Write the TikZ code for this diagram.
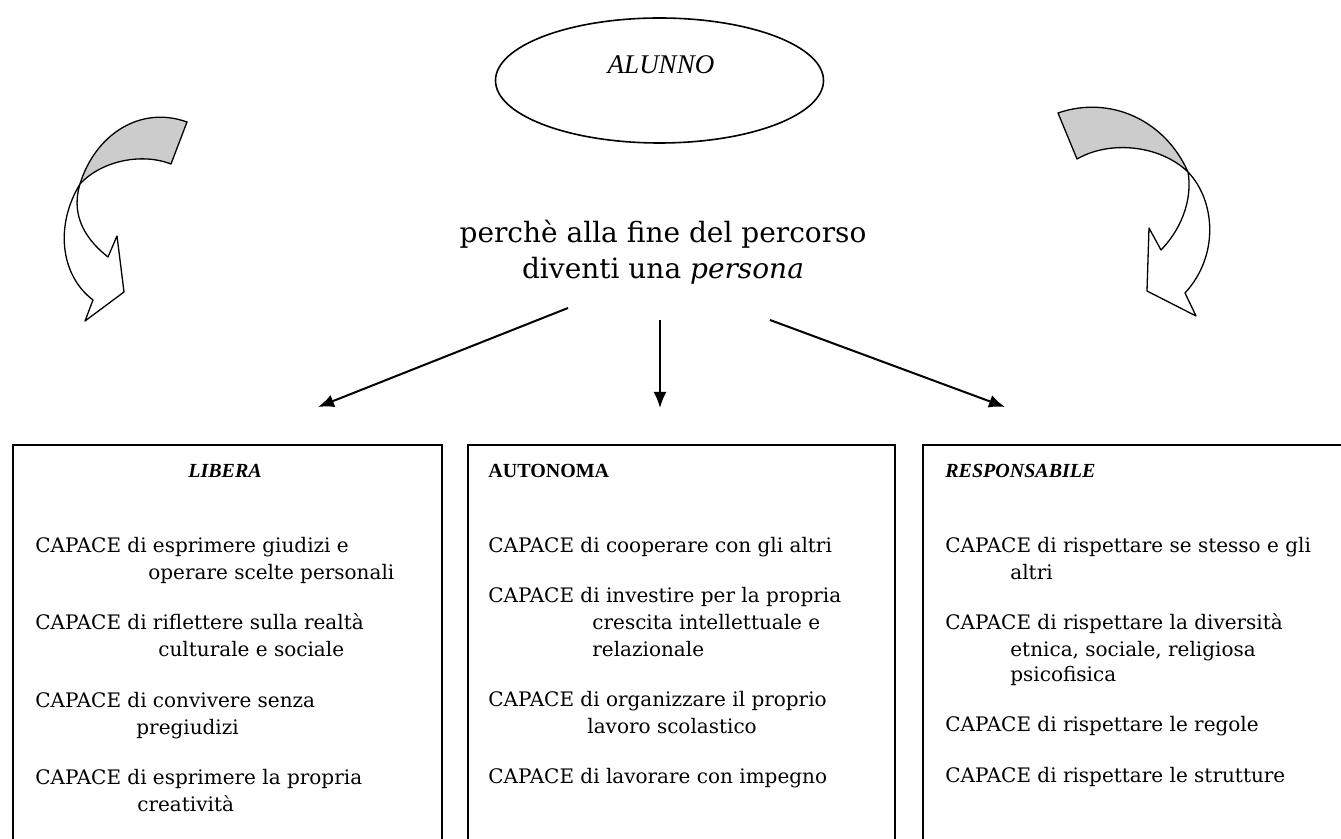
\documentclass[tikz,border=0pt]{standalone}
\usepackage{fontspec}
\setmainfont{DejaVu Serif}
\newfontfamily\tnr{Liberation Serif}
\usetikzlibrary{shapes.geometric,arrows.meta}
\tikzset{
  box/.style={draw, line width=1pt, inner sep=0pt, outer sep=0pt},
  txt/.style={anchor=base west, inner sep=0pt, font=\fontsize{10}{12}\selectfont},
  hdr/.style={anchor=base west, inner sep=0pt, font=\tnr\bfseries\fontsize{10}{12}\selectfont},
  big/.style={anchor=base, inner sep=0pt, font=\fontsize{14}{17}\selectfont},
  conn/.style={line width=1pt, -{Latex[length=8pt,width=6.5pt]}},
  bandgrey/.style={fill=black!20, draw, line width=0.65pt, line join=round},
  bandwhite/.style={fill=white, draw, line width=0.65pt, line join=round},
}
\begin{document}
\begin{tikzpicture}[x=0.5pt,y=-0.5pt]
\useasboundingbox (0,0) rectangle (1341,839);
\clip (0,0) rectangle (1341,839);

% ellipse
\node[draw, ellipse, line width=0.8pt, minimum width=164pt, minimum height=62.5pt, inner sep=0pt] (alunno) at (659.5,80.5) {};
\node[anchor=base, inner sep=0pt, font=\tnr\itshape\fontsize{13.5}{16}\selectfont] (alunnotxt) at (661,74) {ALUNNO};

% central text
\node[big] (perche1) at (663,243) {perchè alla fine del percorso};
\node[big] (perche2) at (663,279) {diventi una \textit{persona}};

% curved arrows (left)
\draw[bandwhite] (80,184) .. controls (55,225) and (60,275) .. (93,300) -- (85,321) -- (124,292) -- (117,236) -- (108,257) .. controls (80,235) and (72,210) .. (80,184) -- cycle;
\draw[bandgrey] (187,122) .. controls (140,105) and (95,135) .. (80,184) .. controls (100,162) and (140,152) .. (171,164) -- cycle;

% curved arrows (right)
\draw[bandwhite] (1188,172) .. controls (1215,200) and (1220,255) .. (1185,293) -- (1196,316) -- (1147,291) -- (1149,228) -- (1161,250) .. controls (1185,225) and (1192,195) .. (1188,172) -- cycle;
\draw[bandgrey] (1058,113) .. controls (1110,95) and (1165,120) .. (1188,172) .. controls (1160,145) and (1110,140) .. (1077,159) -- cycle;

% boxes
\node[box, anchor=north west, minimum width=214.5pt, minimum height=230pt] (boxL) at (13,445) {};
\node[box, anchor=north west, minimum width=213.5pt, minimum height=230pt] (boxM) at (468,445) {};
\node[box, anchor=north west, minimum width=220pt, minimum height=230pt] (boxR) at (923,445) {};

% connectors
\coordinate (sL) at (568,308);
\coordinate (eL) at (318,407);
\coordinate (sM) at (660,320);
\coordinate (eM) at (660,408);
\coordinate (sR) at (770,320);
\coordinate (eR) at (1005,407);
\draw[conn] (sL) -- (eL);
\draw[conn] (sM) -- (eM);
\draw[conn] (sR) -- (eR);

% box L
\node[hdr, anchor=base, font=\tnr\bfseries\itshape\fontsize{10}{12}\selectfont] (hL) at (225,478) {LIBERA};
\node[txt] (l1a) at (35,553) {CAPACE di esprimere giudizi e};
\node[txt] (l1b) at (148,580) {operare scelte personali};
\node[txt] (l2a) at (35,630) {CAPACE di riflettere sulla realtà};
\node[txt] (l2b) at (158,657) {culturale e sociale};
\node[txt] (l3a) at (35,708) {CAPACE di convivere senza};
\node[txt] (l3b) at (136,735) {pregiudizi};
\node[txt] (l4a) at (35,785) {CAPACE di esprimere la propria};
\node[txt] (l4b) at (137,812) {creatività};

% box M
\node[hdr] (hM) at (488,478) {AUTONOMA};
\node[txt] (m1a) at (488,553) {CAPACE di cooperare con gli altri};
\node[txt] (m2a) at (488,603) {CAPACE di investire per la propria};
\node[txt] (m2b) at (592,630) {crescita intellettuale e};
\node[txt] (m2c) at (592,657) {relazionale};
\node[txt] (m3a) at (488,707) {CAPACE di organizzare il proprio};
\node[txt] (m3b) at (587,734) {lavoro scolastico};
\node[txt] (m4a) at (488,784) {CAPACE di lavorare con impegno};

% box R
\node[hdr, font=\tnr\bfseries\itshape\fontsize{10}{12}\selectfont] (hR) at (945,478) {RESPONSABILE};
\node[txt] (r1a) at (945,553) {CAPACE di rispettare se stesso e gli};
\node[txt] (r1b) at (1010,580) {altri};
\node[txt] (r2a) at (945,630) {CAPACE di rispettare la diversità};
\node[txt] (r2b) at (1010,657) {etnica, sociale, religiosa};
\node[txt] (r2c) at (1010,682) {psicofisica};
\node[txt] (r3a) at (945,732) {CAPACE di rispettare le regole};
\node[txt] (r4a) at (945,783) {CAPACE di rispettare le strutture};
\end{tikzpicture}
\end{document}
